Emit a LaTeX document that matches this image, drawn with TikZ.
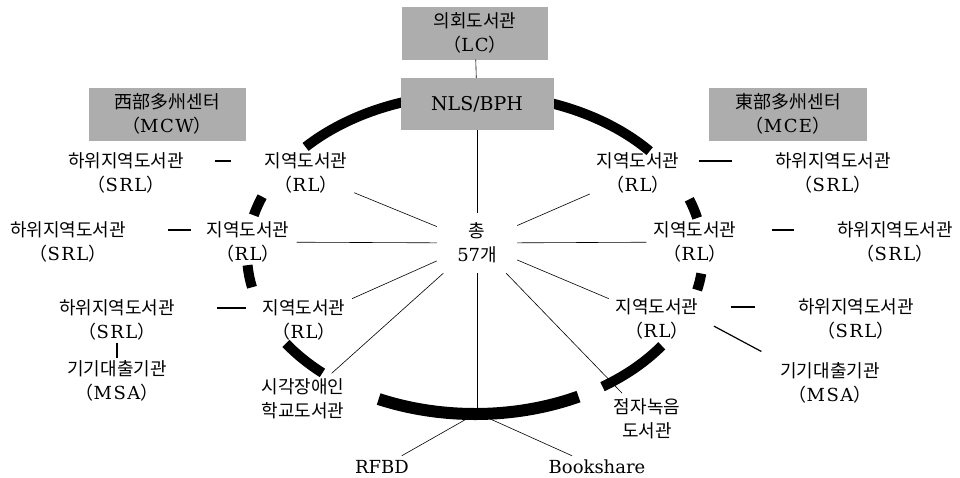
\documentclass[tikz,border=0pt]{standalone}
\usepackage{fontspec}
\setmainfont{DejaVu Serif}
\newfontfamily\kr{Noto Sans CJK KR}
\newcommand{\acr}[1]{{\kr （}{\addfontfeatures{LetterSpace=8}#1}{\kr ）}}

\begin{document}
\begin{tikzpicture}[x=1pt,y=-1pt,
    every node/.style={font=\fontsize{18}{24}\selectfont,align=center,inner sep=2pt},
    shade box/.style={fill=black!32,minimum width=150pt,minimum height=53pt},
    spoke/.style={line width=0.6pt},
    link/.style={line width=1.2pt}]
    \useasboundingbox (0,0) rectangle (960,477);
    \coordinate (c) at (475,254);
    \coordinate (ringbot) at (477,413);
    \foreach \a/\b/\w in {222/262/10,278/320/10,194/201/10,168/176/10,132/146/10,63/115/12,35/56/10,7/13/10,-20/-13/10}
        \draw[line width=\w pt] (c) ++(\a:228 and 160) arc[start angle=\a,end angle=\b,x radius=228,y radius=160];
    \node[shade box,minimum width=146pt] (lc) at (475,33) {{\kr 의회도서관}\\\acr{LC}};
    \node[shade box,minimum width=153pt,minimum height=52pt,font=\fontsize{19}{24}\selectfont] (nls) at (477,104) {NLS/BPH};
    \node[shade box,minimum width=157pt] (mcw) at (167,114) {{\kr 西部多州센터}\\\acr{MCW}};
    \node[shade box,minimum width=158pt] (mce) at (788,114) {{\kr 東部多州센터}\\\acr{MCE}};
    \node[minimum width=80pt,minimum height=60pt] (tot) at (477,243) {{\kr 총}\\57{\kr 개}};
    \node (srl1l) at (126,173) {{\kr 하위지역도서관}\\\acr{SRL}};
    \node (rl1l) at (306,173) {{\kr 지역도서관}\\\acr{RL}};
    \node (srl2l) at (68,242) {{\kr 하위지역도서관}\\\acr{SRL}};
    \node (rl2l) at (248,242) {{\kr 지역도서관}\\\acr{RL}};
    \node (srl3l) at (117,320) {{\kr 하위지역도서관}\\\acr{SRL}};
    \node (rl3l) at (304,320) {{\kr 지역도서관}\\\acr{RL}};
    \node (msal) at (117,381) {{\kr 기기대출기관}\\\acr{MSA}};
    \node (vis) at (303,399) {{\kr 시각장애인}\\{\kr 학교도서관}};
    \node (rl1r) at (638,173) {{\kr 지역도서관}\\\acr{RL}};
    \node (srl1r) at (833,173) {{\kr 하위지역도서관}\\\acr{SRL}};
    \node (rl2r) at (695,242) {{\kr 지역도서관}\\\acr{RL}};
    \node (srl2r) at (895,242) {{\kr 하위지역도서관}\\\acr{SRL}};
    \node (rl3r) at (657,319) {{\kr 지역도서관}\\\acr{RL}};
    \node (srl3r) at (856,319) {{\kr 하위지역도서관}\\\acr{SRL}};
    \node (msar) at (830,383) {{\kr 기기대출기관}\\\acr{MSA}};
    \node (brl) at (647,419) {{\kr 점자녹음}\\{\kr 도서관}};
    \node (rfbd) at (382,467) {RFBD};
    \node (bks) at (597,467) {Bookshare};
    \draw[spoke] (lc) -- (nls);
    \path[spoke] (tot) edge (nls) edge (ringbot);
    \path[spoke,shorten >=5pt]
    (tot) edge (rl1l) edge (rl2l) edge (rl3l) edge (vis)
    edge (brl) edge (rl3r) edge (rl2r) edge (rl1r)
    (ringbot) edge (rfbd) edge (bks);
    \draw[link,shorten <=29pt,shorten >=31pt] ([yshift=12pt]srl1l.east) -- ([yshift=12pt]rl1l.west);
    \draw[link,shorten <=40pt,shorten >=13pt] ([yshift=12pt]srl2l.east) -- ([yshift=12pt]rl2l.west);
    \draw[link,shorten <=40pt,shorten >=14pt] ([yshift=12pt]srl3l.east) -- ([yshift=12pt]rl3l.west);
    \draw[link,shorten <=17pt,shorten >=41pt] ([yshift=12pt]rl1r.east) -- ([yshift=12pt]srl1r.west);
    \draw[link,shorten <=33pt,shorten >=41pt] ([yshift=12pt]rl2r.east) -- ([yshift=12pt]srl2r.west);
    \draw[link,shorten <=30pt,shorten >=41pt] ([yshift=12pt]rl3r.east) -- ([yshift=12pt]srl3r.west);
    \draw[link] (srl3l) -- (msal);
    \draw[link,shorten <=15pt,shorten >=19pt] (rl3r.east) -- (msar.north west);
\end{tikzpicture}
\end{document}
